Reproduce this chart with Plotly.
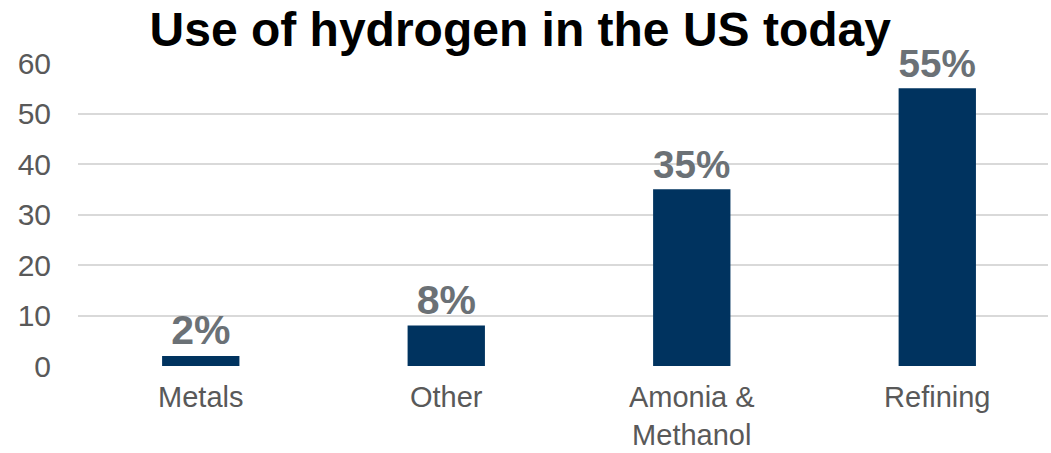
import plotly.graph_objects as go

categories = ["Metals", "Other", "Amonia &<br>Methanol", "Refining"]
values = [2, 8, 35, 55]
labels = ["2%", "8%", "35%", "55%"]
y_ticks = [0, 10, 20, 30, 40, 50, 60]

fig = go.Figure(go.Bar(
    x=list(range(len(categories))), y=values, text=labels,
    textposition="outside", cliponaxis=False,
    marker=dict(color="#00335F", line=dict(width=0)),
    width=0.315,
    textfont=dict(family="Liberation Sans, Arial", size=41, color="#6B7176", weight="bold"),
))
fig.update_layout(
    width=1051, height=453,
    margin=dict(l=78, r=3, t=63, b=87),
    plot_bgcolor="white", paper_bgcolor="white",
    title=dict(text="<b>Use of hydrogen in the US today</b>", x=0.495, xanchor="center",
               y=0.935, yanchor="middle",
               font=dict(family="Liberation Sans, Arial", size=48, color="black")),
    showlegend=False,
    xaxis=dict(tickmode="array", tickvals=list(range(len(categories))), ticktext=categories,
               range=[-0.5, 3.451], showgrid=False, zeroline=False, showline=False,
               automargin=False,
               tickfont=dict(family="Liberation Sans, Arial", size=29, color="#595959"),
               ticks="outside", ticklen=5, tickcolor="rgba(0,0,0,0)"),
    yaxis=dict(range=[0, 60], tickvals=y_ticks, showgrid=True, gridcolor="#D9D9D9", gridwidth=2,
               zeroline=False, showline=False, automargin=False,
               tickfont=dict(family="Liberation Sans, Arial", size=30, color="#595959"),
               ticklabelstandoff=26),
    bargap=0.7,
)
fig.write_html("out.html")
